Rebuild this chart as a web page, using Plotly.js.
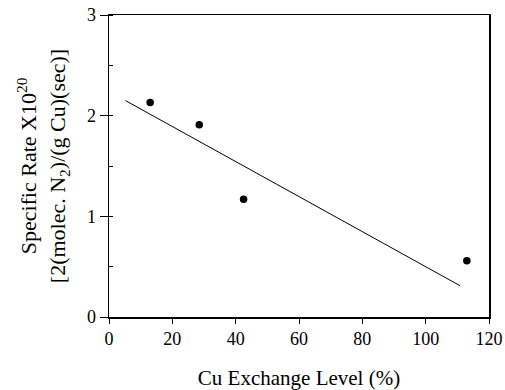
<!DOCTYPE html>
<html><head><meta charset="utf-8">
<script src="https://cdn.plot.ly/plotly-3.0.1.min.js"></script>
<style>body{margin:0;background:#fff}#c{width:505px;height:390px}</style>
</head><body><div id="c"></div>
<script>
const cuLevel = [13, 28.5, 42.5, 113];
const specificRate = [2.13, 1.91, 1.17, 0.56];
const fitX = [5.2, 110.9];
const fitY = [2.15, 0.31];
const xTicks = [0, 20, 40, 60, 80, 100, 120];
const yTicks = [0, 1, 2, 3];

const font = {family: 'Liberation Serif, Times New Roman, serif', color: '#000'};
Plotly.newPlot('c', [
  {x: fitX, y: fitY, mode: 'lines', line: {color: '#000', width: 1}, hoverinfo: 'skip'},
  {x: cuLevel, y: specificRate, mode: 'markers', marker: {color: '#000', size: 7.5}}
], {
  width: 505, height: 390,
  margin: {l: 109, r: 16, t: 15, b: 73},
  showlegend: false,
  paper_bgcolor: '#fff', plot_bgcolor: '#fff',
  font: Object.assign({size: 18}, font),
  xaxis: {
    range: [0, 120], tickvals: xTicks, ticktext: xTicks.map(String),
    showgrid: false, zeroline: false, showline: true, linecolor: '#000', linewidth: 1.5,
    mirror: true, ticks: 'outside', ticklen: 5, tickcolor: '#000',
    tickfont: Object.assign({size: 18}, font),
    title: {text: 'Cu Exchange Level (%)', font: Object.assign({size: 21}, font), standoff: 22}
  },
  yaxis: {
    range: [0, 3], tickvals: yTicks, ticktext: yTicks.map(String),
    showgrid: false, zeroline: false, showline: true, linecolor: '#000', linewidth: 1.5,
    mirror: true, ticks: 'outside', ticklen: 8, tickcolor: '#000',
    minor: {dtick: 0.5, ticks: 'inside', ticklen: 4, tickcolor: '#000'},
    tickfont: Object.assign({size: 18}, font),
    title: {text: 'Specific Rate X10<sup>20</sup><br>[2(molec. N<sub>2</sub>)/(g Cu)(sec)]', font: Object.assign({size: 22}, font), standoff: 15}
  }
}, {displayModeBar: false, staticPlot: true});
</script></body></html>
